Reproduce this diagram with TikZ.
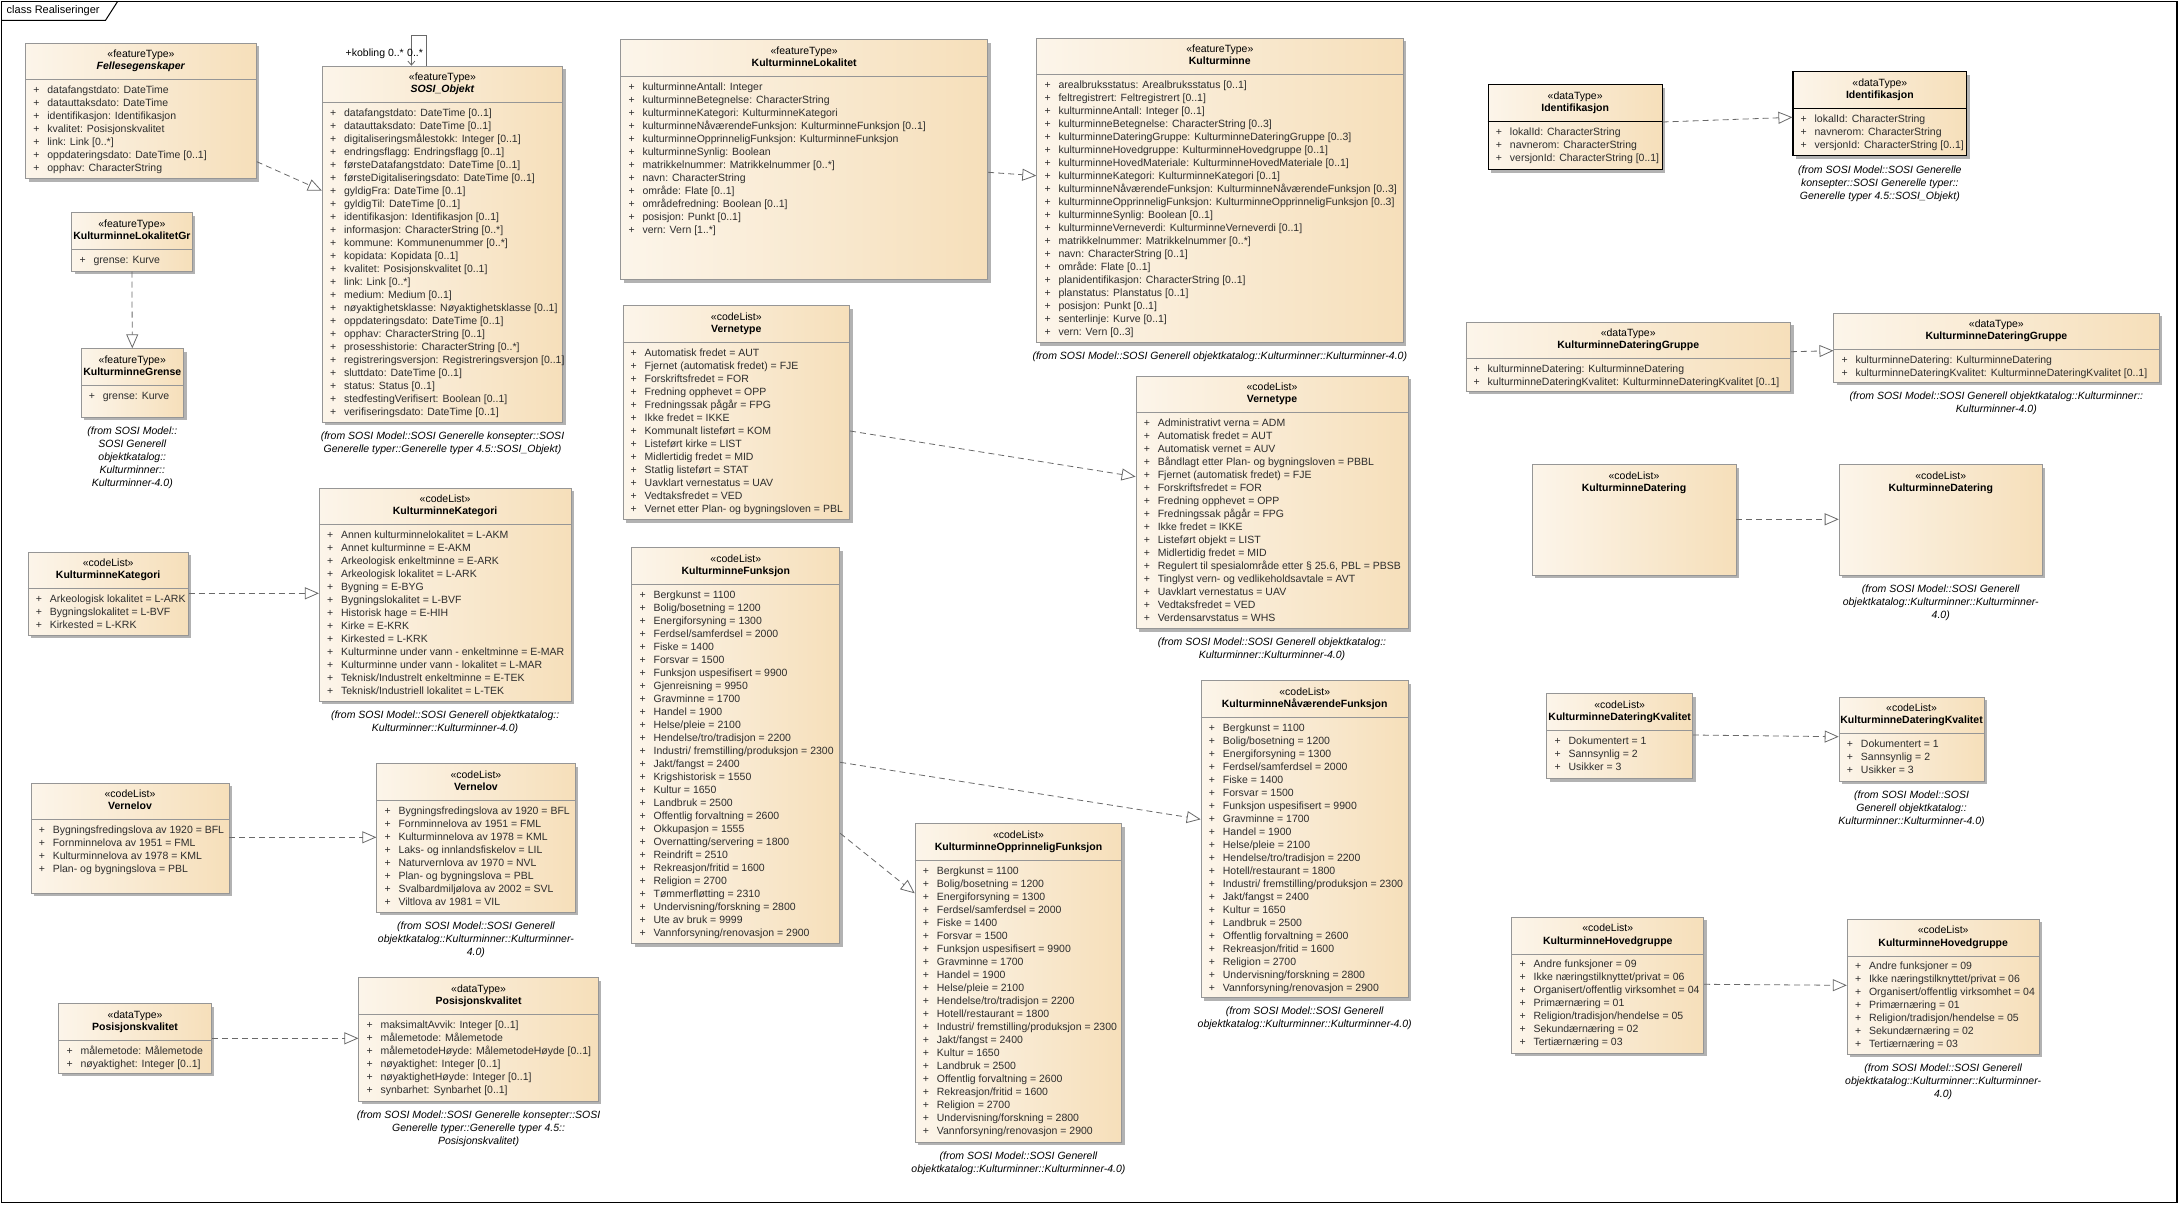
\documentclass[tikz,border=0pt]{standalone}
\usepackage{fontspec}
\setmainfont{Liberation Sans}
\usetikzlibrary{arrows.meta, shadows}

\definecolor{boxleft}{RGB}{252,245,234}
\definecolor{boxright}{RGB}{246,223,186}
\definecolor{boxline}{RGB}{150,150,150}
\definecolor{shadowgray}{RGB}{178,178,178}
\definecolor{linkgray}{RGB}{105,105,105}
\definecolor{attrgray}{RGB}{45,45,45}

% one attribute row: "+" column, then the text
\newcommand{\ua}[1]{\makebox[14pt][l]{+}#1\strut}

\tikzset{
  umlbox/.style={draw=boxline, line width=0.8pt, left color=boxleft, right color=boxright,
    anchor=north west, inner sep=0pt,
    drop shadow={shadow xshift=3pt, shadow yshift=-3pt, opacity=1, fill=shadowgray}},
  idbox/.style={draw=black, line width=1.1pt},
  sepline/.style={boxline, line width=0.8pt},
  stereo/.style={font=\fontsize{10.5}{13}\selectfont, inner sep=0pt, text height=7.5pt, text depth=2pt},
  cname/.style={font=\fontsize{10.5}{13}\selectfont\bfseries, inner sep=0pt, text height=7.5pt, text depth=2pt},
  attrs/.style={font=\fontsize{10.5}{13}\selectfont, text=attrgray, align=left, anchor=north west, inner sep=0pt},
  fromtxt/.style={font=\fontsize{10.5}{13}\selectfont\itshape, align=center, anchor=north, inner sep=0pt},
  real/.style={draw=linkgray, line width=0.8pt, dash pattern=on 6pt off 4pt,
    -{Triangle[open, length=14pt, width=12pt]}},
  assoc/.style={draw=linkgray, line width=0.8pt, -{Straight Barb[length=4pt, width=7pt]}},
}

% [extra style]{name}{top left}{width}{height}{stereotype}{class name}{attribute rows}
\newcommand{\umlclass}[8][]{%
  \node[umlbox,#1,minimum width=#4pt,minimum height=#5pt] (#2) at #3 {};
  \node[stereo] (#2-st) at ([yshift=-12pt]#2.north) {«#6»};
  \node[cname] (#2-nm) at ([yshift=-24.5pt]#2.north) {#7};
  \if\relax\detokenize{#8}\relax\else
    \draw[sepline,#1] ([yshift=-37pt]#2.north west) -- ([yshift=-37pt]#2.north east);
    \node[attrs] (#2-at) at ([xshift=8pt,yshift=-41.4pt]#2.north west) {#8};
  \fi
}
\newcommand{\fromtext}[2]{\node[fromtxt] (#1-from) at ([yshift=-7.4pt]#1.south) {\strut #2};}

\begin{document}
\begin{tikzpicture}[x=1pt, y=-1pt]
  \useasboundingbox (0,0) rectangle (2183,1204);

  % frame
  \draw[line width=1.2pt] (1.5,1.5) rectangle (2177,1202.5);
  \draw[line width=1pt] (1.5,20.5) -- (105.4,20.5) -- (117.6,1.5);
  \node[anchor=west, inner sep=0pt, font=\fontsize{11}{13}\selectfont] (title) at (6.5,11) {class Realiseringer};

  % left column
  \umlclass{fell}{(25.2,42.7)}{230.8}{135.6}{featureType}{\textit{Fellesegenskaper}}{%
    \ua{datafangstdato: DateTime}\\
    \ua{datauttaksdato: DateTime}\\
    \ua{identifikasjon: Identifikasjon}\\
    \ua{kvalitet: Posisjonskvalitet}\\
    \ua{link: Link [0..*]}\\
    \ua{oppdateringsdato: DateTime [0..1]}\\
    \ua{opphav: CharacterString}}
  \umlclass{lokgr}{(71.4,212.3)}{120.2}{58.4}{featureType}{KulturminneLokalitetGr}{%
    \ua{grense: Kurve}}
  \umlclass{grense}{(80.7,348.3)}{102.4}{68.4}{featureType}{KulturminneGrense}{%
    \ua{grense: Kurve}}
  \fromtext{grense}{(from SOSI Model::\\SOSI Generell\\objektkatalog::\\Kulturminner::\\Kulturminner-4.0)}

  \umlclass{kkatL}{(27.7,551.7)}{160.2}{83.3}{codeList}{KulturminneKategori}{%
    \ua{Arkeologisk lokalitet = L-ARK}\\
    \ua{Bygningslokalitet = L-BVF}\\
    \ua{Kirkested = L-KRK}}
  \umlclass{vlovL}{(30.6,782.7)}{198}{110}{codeList}{Vernelov}{%
    \ua{Bygningsfredingslova av 1920 = BFL}\\
    \ua{Fornminnelova av 1951 = FML}\\
    \ua{Kulturminnelova av 1978 = KML}\\
    \ua{Plan- og bygningslova = PBL}}
  \umlclass{posL}{(58.4,1003.3)}{152.6}{69.4}{dataType}{Posisjonskvalitet}{%
    \ua{målemetode: Målemetode}\\
    \ua{nøyaktighet: Integer [0..1]}}

  % second column
  \umlclass{sosi}{(321.9,65.7)}{240.4}{356}{featureType}{\textit{SOSI\_Objekt}}{%
    \ua{datafangstdato: DateTime [0..1]}\\
    \ua{datauttaksdato: DateTime [0..1]}\\
    \ua{digitaliseringsmålestokk: Integer [0..1]}\\
    \ua{endringsflagg: Endringsflagg [0..1]}\\
    \ua{førsteDatafangstdato: DateTime [0..1]}\\
    \ua{førsteDigitaliseringsdato: DateTime [0..1]}\\
    \ua{gyldigFra: DateTime [0..1]}\\
    \ua{gyldigTil: DateTime [0..1]}\\
    \ua{identifikasjon: Identifikasjon [0..1]}\\
    \ua{informasjon: CharacterString [0..*]}\\
    \ua{kommune: Kommunenummer [0..*]}\\
    \ua{kopidata: Kopidata [0..1]}\\
    \ua{kvalitet: Posisjonskvalitet [0..1]}\\
    \ua{link: Link [0..*]}\\
    \ua{medium: Medium [0..1]}\\
    \ua{nøyaktighetsklasse: Nøyaktighetsklasse [0..1]}\\
    \ua{oppdateringsdato: DateTime [0..1]}\\
    \ua{opphav: CharacterString [0..1]}\\
    \ua{prosesshistorie: CharacterString [0..*]}\\
    \ua{registreringsversjon: Registreringsversjon [0..1]}\\
    \ua{sluttdato: DateTime [0..1]}\\
    \ua{status: Status [0..1]}\\
    \ua{stedfestingVerifisert: Boolean [0..1]}\\
    \ua{verifiseringsdato: DateTime [0..1]}}
  \fromtext{sosi}{(from SOSI Model::SOSI Generelle konsepter::SOSI\\Generelle typer::Generelle typer 4.5::SOSI\_Objekt)}

  \umlclass{kkatR}{(318.9,487.7)}{251.6}{213.3}{codeList}{KulturminneKategori}{%
    \ua{Annen kulturminnelokalitet = L-AKM}\\
    \ua{Annet kulturminne = E-AKM}\\
    \ua{Arkeologisk enkeltminne = E-ARK}\\
    \ua{Arkeologisk lokalitet = L-ARK}\\
    \ua{Bygning = E-BYG}\\
    \ua{Bygningslokalitet = L-BVF}\\
    \ua{Historisk hage = E-HIH}\\
    \ua{Kirke = E-KRK}\\
    \ua{Kirkested = L-KRK}\\
    \ua{Kulturminne under vann - enkeltminne = E-MAR}\\
    \ua{Kulturminne under vann - lokalitet = L-MAR}\\
    \ua{Teknisk/Industrelt enkeltminne = E-TEK}\\
    \ua{Teknisk/Industriell lokalitet = L-TEK}}
  \fromtext{kkatR}{(from SOSI Model::SOSI Generell objektkatalog::\\Kulturminner::Kulturminner-4.0)}

  \umlclass{vlovR}{(376.3,763.3)}{198.4}{148.4}{codeList}{Vernelov}{%
    \ua{Bygningsfredingslova av 1920 = BFL}\\
    \ua{Fornminnelova av 1951 = FML}\\
    \ua{Kulturminnelova av 1978 = KML}\\
    \ua{Laks- og innlandsfiskelov = LIL}\\
    \ua{Naturvernlova av 1970 = NVL}\\
    \ua{Plan- og bygningslova = PBL}\\
    \ua{Svalbardmiljølova av 2002 = SVL}\\
    \ua{Viltlova av 1981 = VIL}}
  \fromtext{vlovR}{(from SOSI Model::SOSI Generell\\objektkatalog::Kulturminner::Kulturminner-\\4.0)}

  \umlclass{posR}{(358.4,977.3)}{239.6}{123.4}{dataType}{Posisjonskvalitet}{%
    \ua{maksimaltAvvik: Integer [0..1]}\\
    \ua{målemetode: Målemetode}\\
    \ua{målemetodeHøyde: MålemetodeHøyde [0..1]}\\
    \ua{nøyaktighet: Integer [0..1]}\\
    \ua{nøyaktighetHøyde: Integer [0..1]}\\
    \ua{synbarhet: Synbarhet [0..1]}}
  \fromtext{posR}{(from SOSI Model::SOSI Generelle konsepter::SOSI\\Generelle typer::Generelle typer 4.5::\\Posisjonskvalitet)}

  % middle column
  \umlclass{klok}{(620.3,39.3)}{367}{240}{featureType}{KulturminneLokalitet}{%
    \ua{kulturminneAntall: Integer}\\
    \ua{kulturminneBetegnelse: CharacterString}\\
    \ua{kulturminneKategori: KulturminneKategori}\\
    \ua{kulturminneNåværendeFunksjon: KulturminneFunksjon [0..1]}\\
    \ua{kulturminneOpprinneligFunksjon: KulturminneFunksjon}\\
    \ua{kulturminneSynlig: Boolean}\\
    \ua{matrikkelnummer: Matrikkelnummer [0..*]}\\
    \ua{navn: CharacterString}\\
    \ua{område: Flate [0..1]}\\
    \ua{områdefredning: Boolean [0..1]}\\
    \ua{posisjon: Punkt [0..1]}\\
    \ua{vern: Vern [1..*]}}

  \umlclass{vtypL}{(622.5,305.3)}{226.8}{214}{codeList}{Vernetype}{%
    \ua{Automatisk fredet = AUT}\\
    \ua{Fjernet (automatisk fredet) = FJE}\\
    \ua{Forskriftsfredet = FOR}\\
    \ua{Fredning opphevet = OPP}\\
    \ua{Fredningssak pågår = FPG}\\
    \ua{Ikke fredet = IKKE}\\
    \ua{Kommunalt listeført = KOM}\\
    \ua{Listeført kirke = LIST}\\
    \ua{Midlertidig fredet = MID}\\
    \ua{Statlig listeført = STAT}\\
    \ua{Uavklart vernestatus = UAV}\\
    \ua{Vedtaksfredet = VED}\\
    \ua{Vernet etter Plan- og bygningsloven = PBL}}

  \umlclass{kfunk}{(631.4,547.3)}{208}{396}{codeList}{KulturminneFunksjon}{%
    \ua{Bergkunst = 1100}\\
    \ua{Bolig/bosetning = 1200}\\
    \ua{Energiforsyning = 1300}\\
    \ua{Ferdsel/samferdsel = 2000}\\
    \ua{Fiske = 1400}\\
    \ua{Forsvar = 1500}\\
    \ua{Funksjon uspesifisert = 9900}\\
    \ua{Gjenreisning = 9950}\\
    \ua{Gravminne = 1700}\\
    \ua{Handel = 1900}\\
    \ua{Helse/pleie = 2100}\\
    \ua{Hendelse/tro/tradisjon = 2200}\\
    \ua{Industri/ fremstilling/produksjon = 2300}\\
    \ua{Jakt/fangst = 2400}\\
    \ua{Krigshistorisk = 1550}\\
    \ua{Kultur = 1650}\\
    \ua{Landbruk = 2500}\\
    \ua{Offentlig forvaltning = 2600}\\
    \ua{Okkupasjon = 1555}\\
    \ua{Overnatting/servering = 1800}\\
    \ua{Reindrift = 2510}\\
    \ua{Rekreasjon/fritid = 1600}\\
    \ua{Religion = 2700}\\
    \ua{Tømmerfløtting = 2310}\\
    \ua{Undervisning/forskning = 2800}\\
    \ua{Ute av bruk = 9999}\\
    \ua{Vannforsyning/renovasjon = 2900}}

  \umlclass{kopp}{(914.7,823.3)}{206.7}{318.4}{codeList}{KulturminneOpprinneligFunksjon}{%
    \ua{Bergkunst = 1100}\\
    \ua{Bolig/bosetning = 1200}\\
    \ua{Energiforsyning = 1300}\\
    \ua{Ferdsel/samferdsel = 2000}\\
    \ua{Fiske = 1400}\\
    \ua{Forsvar = 1500}\\
    \ua{Funksjon uspesifisert = 9900}\\
    \ua{Gravminne = 1700}\\
    \ua{Handel = 1900}\\
    \ua{Helse/pleie = 2100}\\
    \ua{Hendelse/tro/tradisjon = 2200}\\
    \ua{Hotell/restaurant = 1800}\\
    \ua{Industri/ fremstilling/produksjon = 2300}\\
    \ua{Jakt/fangst = 2400}\\
    \ua{Kultur = 1650}\\
    \ua{Landbruk = 2500}\\
    \ua{Offentlig forvaltning = 2600}\\
    \ua{Rekreasjon/fritid = 1600}\\
    \ua{Religion = 2700}\\
    \ua{Undervisning/forskning = 2800}\\
    \ua{Vannforsyning/renovasjon = 2900}}
  \fromtext{kopp}{(from SOSI Model::SOSI Generell\\objektkatalog::Kulturminner::Kulturminner-4.0)}

  \umlclass{km}{(1036.3,37.7)}{366.2}{304.6}{featureType}{Kulturminne}{%
    \ua{arealbruksstatus: Arealbruksstatus [0..1]}\\
    \ua{feltregistrert: Feltregistrert [0..1]}\\
    \ua{kulturminneAntall: Integer [0..1]}\\
    \ua{kulturminneBetegnelse: CharacterString [0..3]}\\
    \ua{kulturminneDateringGruppe: KulturminneDateringGruppe [0..3]}\\
    \ua{kulturminneHovedgruppe: KulturminneHovedgruppe [0..1]}\\
    \ua{kulturminneHovedMateriale: KulturminneHovedMateriale [0..1]}\\
    \ua{kulturminneKategori: KulturminneKategori [0..1]}\\
    \ua{kulturminneNåværendeFunksjon: KulturminneNåværendeFunksjon [0..3]}\\
    \ua{kulturminneOpprinneligFunksjon: KulturminneOpprinneligFunksjon [0..3]}\\
    \ua{kulturminneSynlig: Boolean [0..1]}\\
    \ua{kulturminneVerneverdi: KulturminneVerneverdi [0..1]}\\
    \ua{matrikkelnummer: Matrikkelnummer [0..*]}\\
    \ua{navn: CharacterString [0..1]}\\
    \ua{område: Flate [0..1]}\\
    \ua{planidentifikasjon: CharacterString [0..1]}\\
    \ua{planstatus: Planstatus [0..1]}\\
    \ua{posisjon: Punkt [0..1]}\\
    \ua{senterlinje: Kurve [0..1]}\\
    \ua{vern: Vern [0..3]}}
  \fromtext{km}{(from SOSI Model::SOSI Generell objektkatalog::Kulturminner::Kulturminner-4.0)}

  \umlclass{vtypR}{(1135.6,375.7)}{272}{252.6}{codeList}{Vernetype}{%
    \ua{Administrativt verna = ADM}\\
    \ua{Automatisk fredet = AUT}\\
    \ua{Automatisk vernet = AUV}\\
    \ua{Båndlagt etter Plan- og bygningsloven = PBBL}\\
    \ua{Fjernet (automatisk fredet) = FJE}\\
    \ua{Forskriftsfredet = FOR}\\
    \ua{Fredning opphevet = OPP}\\
    \ua{Fredningssak pågår = FPG}\\
    \ua{Ikke fredet = IKKE}\\
    \ua{Listeført objekt = LIST}\\
    \ua{Midlertidig fredet = MID}\\
    \ua{Regulert til spesialområde etter § 25.6, PBL = PBSB}\\
    \ua{Tinglyst vern- og vedlikeholdsavtale = AVT}\\
    \ua{Uavklart vernestatus = UAV}\\
    \ua{Vedtaksfredet = VED}\\
    \ua{Verdensarvstatus = WHS}}
  \fromtext{vtypR}{(from SOSI Model::SOSI Generell objektkatalog::\\Kulturminner::Kulturminner-4.0)}

  \umlclass{knaa}{(1200.7,680.4)}{207.2}{317}{codeList}{KulturminneNåværendeFunksjon}{%
    \ua{Bergkunst = 1100}\\
    \ua{Bolig/bosetning = 1200}\\
    \ua{Energiforsyning = 1300}\\
    \ua{Ferdsel/samferdsel = 2000}\\
    \ua{Fiske = 1400}\\
    \ua{Forsvar = 1500}\\
    \ua{Funksjon uspesifisert = 9900}\\
    \ua{Gravminne = 1700}\\
    \ua{Handel = 1900}\\
    \ua{Helse/pleie = 2100}\\
    \ua{Hendelse/tro/tradisjon = 2200}\\
    \ua{Hotell/restaurant = 1800}\\
    \ua{Industri/ fremstilling/produksjon = 2300}\\
    \ua{Jakt/fangst = 2400}\\
    \ua{Kultur = 1650}\\
    \ua{Landbruk = 2500}\\
    \ua{Offentlig forvaltning = 2600}\\
    \ua{Rekreasjon/fritid = 1600}\\
    \ua{Religion = 2700}\\
    \ua{Undervisning/forskning = 2800}\\
    \ua{Vannforsyning/renovasjon = 2900}}
  \fromtext{knaa}{(from SOSI Model::SOSI Generell\\objektkatalog::Kulturminner::Kulturminner-4.0)}

  % right columns
  \umlclass[idbox]{idL}{(1487.7,84.3)}{173.8}{84.7}{dataType}{Identifikasjon}{%
    \ua{lokalId: CharacterString}\\
    \ua{navnerom: CharacterString}\\
    \ua{versjonId: CharacterString [0..1]}}
  \umlclass[idbox]{idR}{(1792.4,71.3)}{173.8}{84}{dataType}{Identifikasjon}{%
    \ua{lokalId: CharacterString}\\
    \ua{navnerom: CharacterString}\\
    \ua{versjonId: CharacterString [0..1]}}
  \fromtext{idR}{(from SOSI Model::SOSI Generelle\\konsepter::SOSI Generelle typer::\\Generelle typer 4.5::SOSI\_Objekt)}

  \umlclass{kdgL}{(1465.5,321.7)}{324.6}{69}{dataType}{KulturminneDateringGruppe}{%
    \ua{kulturminneDatering: KulturminneDatering}\\
    \ua{kulturminneDateringKvalitet: KulturminneDateringKvalitet [0..1]}}
  \umlclass{kdgR}{(1833.4,312.7)}{325.1}{69}{dataType}{KulturminneDateringGruppe}{%
    \ua{kulturminneDatering: KulturminneDatering}\\
    \ua{kulturminneDateringKvalitet: KulturminneDateringKvalitet [0..1]}}
  \fromtext{kdgR}{(from SOSI Model::SOSI Generell objektkatalog::Kulturminner::\\Kulturminner-4.0)}

  \umlclass{kdL}{(1531.6,464.3)}{204}{110.7}{codeList}{KulturminneDatering}{}
  \umlclass{kdR}{(1838.7,464.3)}{203.2}{110.7}{codeList}{KulturminneDatering}{}
  \fromtext{kdR}{(from SOSI Model::SOSI Generell\\objektkatalog::Kulturminner::Kulturminner-\\4.0)}

  \umlclass{kdkL}{(1546.4,693.3)}{145.7}{85}{codeList}{KulturminneDateringKvalitet}{%
    \ua{Dokumentert = 1}\\
    \ua{Sannsynlig = 2}\\
    \ua{Usikker = 3}}
  \umlclass{kdkR}{(1838.7,696.7)}{144.9}{84}{codeList}{KulturminneDateringKvalitet}{%
    \ua{Dokumentert = 1}\\
    \ua{Sannsynlig = 2}\\
    \ua{Usikker = 3}}
  \fromtext{kdkR}{(from SOSI Model::SOSI\\Generell objektkatalog::\\Kulturminner::Kulturminner-4.0)}

  \umlclass{khgL}{(1511.4,917)}{191.9}{135.7}{codeList}{KulturminneHovedgruppe}{%
    \ua{Andre funksjoner = 09}\\
    \ua{Ikke næringstilknyttet/privat = 06}\\
    \ua{Organisert/offentlig virksomhet = 04}\\
    \ua{Primærnæring = 01}\\
    \ua{Religion/tradisjon/hendelse = 05}\\
    \ua{Sekundærnæring = 02}\\
    \ua{Tertiærnæring = 03}}
  \umlclass{khgR}{(1846.8,919)}{191.9}{135}{codeList}{KulturminneHovedgruppe}{%
    \ua{Andre funksjoner = 09}\\
    \ua{Ikke næringstilknyttet/privat = 06}\\
    \ua{Organisert/offentlig virksomhet = 04}\\
    \ua{Primærnæring = 01}\\
    \ua{Religion/tradisjon/hendelse = 05}\\
    \ua{Sekundærnæring = 02}\\
    \ua{Tertiærnæring = 03}}
  \fromtext{khgR}{(from SOSI Model::SOSI Generell\\objektkatalog::Kulturminner::Kulturminner-\\4.0)}

  % realisations
  \draw[real] (fell.east |- 0,161.7) -- (sosi.west |- 0,190.7);
  \draw[real] (lokgr.south) -- (grense.north);
  \draw[real] (kkatL.east |- 0,593.3) -- (kkatR.west |- 0,593.3);
  \draw[real] (vlovL.east |- 0,837.3) -- (vlovR.west |- 0,837.3);
  \draw[real] (posL.east |- 0,1038.3) -- (posR.west |- 0,1038.3);
  \draw[real] (klok.east |- 0,172.3) -- (km.west |- 0,175.7);
  \draw[real] (vtypL.east |- 0,431) -- (vtypR.west |- 0,476.7);
  \draw[real] (kfunk.east |- 0,762.3) -- (knaa.west |- 0,819.3);
  \draw[real] (kfunk.east |- 0,833.3) -- (kopp.west |- 0,893.3);
  \draw[real] (idL.east |- 0,122) -- (idR.west |- 0,117.3);
  \draw[real] (kdgL.east |- 0,351.7) -- (kdgR.west |- 0,350.7);
  \draw[real] (kdL.east |- 0,519.3) -- (kdR.west |- 0,519.3);
  \draw[real] (kdkL.east |- 0,735) -- (kdkR.west |- 0,736.7);
  \draw[real] (khgL.east |- 0,984.3) -- (khgR.west |- 0,985.3);

  % self association on SOSI_Objekt
  \coordinate (kob-a) at (426.6,35);
  \coordinate (kob-b) at (411.4,35);
  \draw[assoc] (sosi.north -| kob-a) -- (kob-a) -- (kob-b) -- (sosi.north -| kob-b);
  \node[anchor=east, inner sep=0pt, font=\fontsize{10.5}{13}\selectfont] (kob-role) at (404,53.3) {+kobling 0..*};
  \node[anchor=west, inner sep=0pt, font=\fontsize{10.5}{13}\selectfont] (kob-mult) at (407,53.3) {0..*};
\end{tikzpicture}
\end{document}
